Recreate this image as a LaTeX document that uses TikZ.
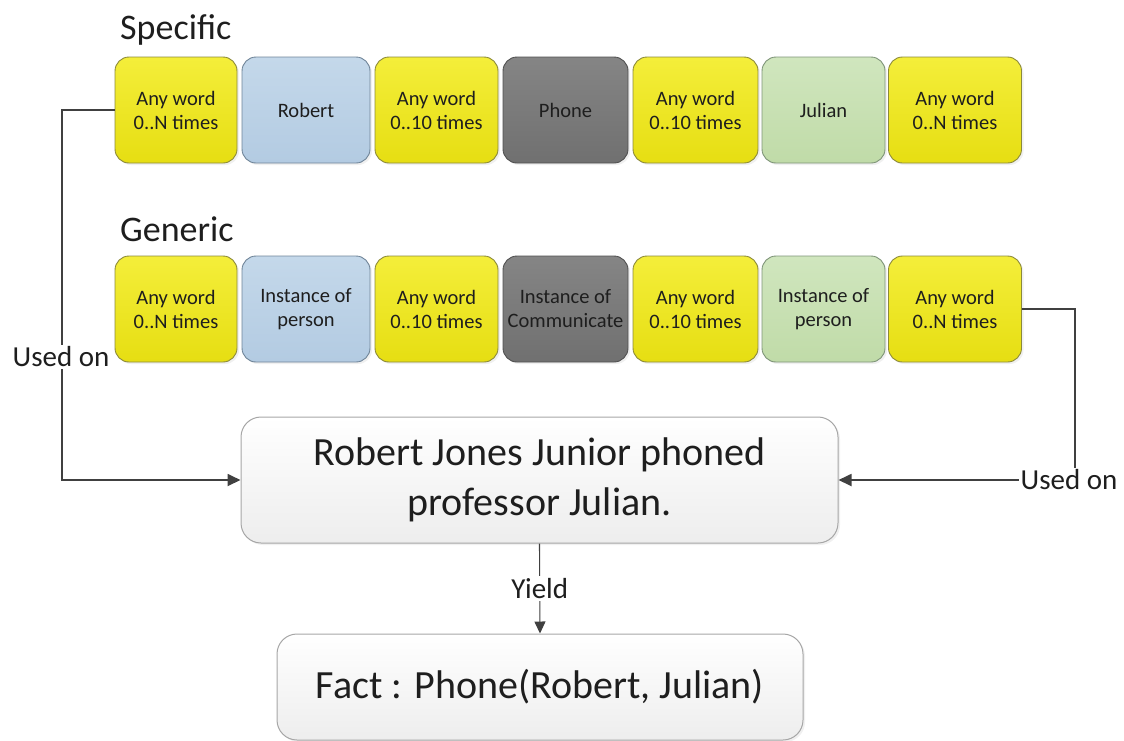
\documentclass[tikz,border=0pt]{standalone}
\usepackage{fontspec}
\setmainfont{Carlito}
\usetikzlibrary{arrows.meta,shadows}
\definecolor{yelA}{HTML}{F4EE3A}
\definecolor{yelB}{HTML}{E6DE12}
\definecolor{yelD}{HTML}{8C8A3A}
\definecolor{bluA}{HTML}{C4D8EA}
\definecolor{bluB}{HTML}{B3CBE2}
\definecolor{bluD}{HTML}{6F8498}
\definecolor{gryA}{HTML}{858585}
\definecolor{gryB}{HTML}{707070}
\definecolor{gryD}{HTML}{505050}
\definecolor{grnA}{HTML}{D0E6BE}
\definecolor{grnB}{HTML}{C0DBA8}
\definecolor{grnD}{HTML}{7E9478}
\definecolor{txt}{HTML}{1E1E1E}
\definecolor{linec}{HTML}{404040}
\begin{document}
\begin{tikzpicture}[x=1pt,y=-1pt,
  tok/.style={rounded corners=14pt, minimum height=106pt, inner sep=1pt,
    align=center, text=txt, line width=0.9pt,
    font=\fontsize{20.5}{24}\selectfont,
    drop shadow={opacity=0.12, shadow xshift=2pt, shadow yshift=-2pt}},
  yel/.style={tok, top color=yelA, bottom color=yelB, draw=yelD},
  blu/.style={tok, top color=bluA, bottom color=bluB, draw=bluD},
  gry/.style={tok, top color=gryA, bottom color=gryB, draw=gryD},
  grn/.style={tok, top color=grnA, bottom color=grnB, draw=grnD},
  big/.style={rounded corners=20pt, draw=gray!70, line width=1pt,
    top color=white, bottom color=gray!14, align=center, text=txt,
    drop shadow={opacity=0.12, shadow xshift=2pt, shadow yshift=-2pt}},
  head/.style={anchor=west, inner sep=0pt, text=txt, font=\fontsize{36}{38}\selectfont},
  lbl/.style={fill=white, inner sep=2pt, text=txt, font=\fontsize{29}{30}\selectfont},
  conn/.style={draw=linec, line width=1.8pt},
  tip/.style={-{Triangle[length=13pt,width=12pt]}}
]
\useasboundingbox (0,0) rectangle (1124,740);

\node[head] (hs) at (120,30) {Specific};
\node[head] (hg) at (120,229) {Generic};

% Specific row
\node[yel, minimum width=122pt] (s1) at (176,110) {Any word\\0..N times};
\node[blu, minimum width=128pt] (s2) at (306,110) {Robert};
\node[yel, minimum width=123pt] (s3) at (436.5,110) {Any word\\0..10 times};
\node[gry, minimum width=125pt] (s4) at (565.5,110) {Phone};
\node[yel, minimum width=125pt] (s5) at (695.5,110) {Any word\\0..10 times};
\node[grn, minimum width=123pt] (s6) at (823.5,110) {Julian};
\node[yel, minimum width=133pt] (s7) at (955,110) {Any word\\0..N times};

% Generic row
\node[yel, minimum width=122pt] (g1) at (176,309) {Any word\\0..N times};
\node[blu, minimum width=128pt] (g2) at (306,309) {Instance of\\person};
\node[yel, minimum width=123pt] (g3) at (436.5,309) {Any word\\0..10 times};
\node[gry, minimum width=125pt] (g4) at (565.5,309) {Instance of\\Communicate};
\node[yel, minimum width=125pt] (g5) at (695.5,309) {Any word\\0..10 times};
\node[grn, minimum width=123pt] (g6) at (823.5,309) {Instance of\\person};
\node[yel, minimum width=133pt] (g7) at (955,309) {Any word\\0..N times};

% sentence and fact
\node[big, minimum width=597pt, minimum height=126pt,
  font=\fontsize{40}{50}\selectfont] (sent) at (539.5,480)
  {Robert Jones Junior phoned\\professor Julian.};
\node[big, minimum width=526pt, minimum height=106pt,
  font=\fontsize{40}{44}\selectfont] (fact) at (540,687)
  {Fact : Phone(Robert, Julian)};

% connectors
\coordinate (lc) at (62,480);
\coordinate (rc) at (1075,480);
\draw[conn, tip] (s1.west) -| (lc) -- (sent.west);
\draw[conn, tip] (g7.east) -| (rc) -- (sent.east);
\node[lbl] (u1) at (61,357) {Used on};
\node[lbl] (u2) at (1069,480) {Used on};
\draw[draw=linec, line width=1.1pt, -{Triangle[length=12pt,width=11pt]}]
  (sent.south) -- node[lbl, font=\fontsize{29}{30}\selectfont] (yl) {Yield} (fact.north);
\end{tikzpicture}
\end{document}
